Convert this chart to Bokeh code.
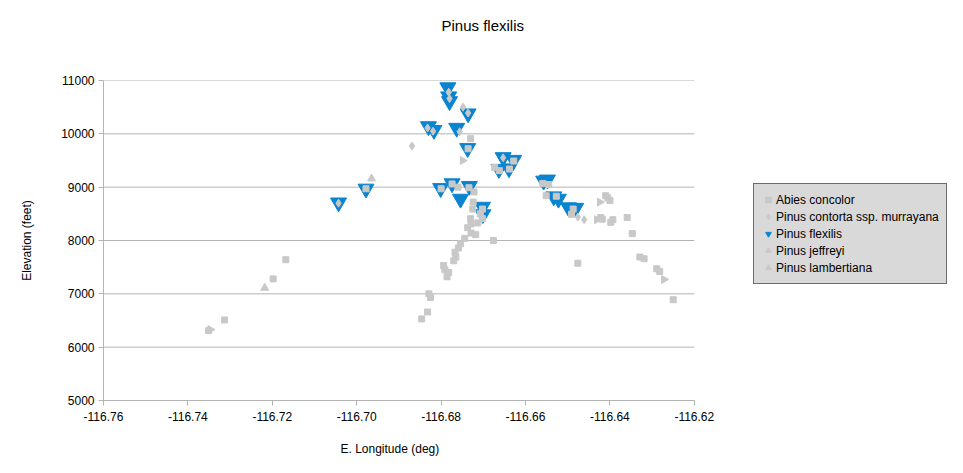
from bokeh.plotting import figure
from bokeh.models import (Legend, LegendItem, FixedTicker, PrintfTickFormatter, Range1d, Title)
from bokeh.embed import file_html
from bokeh.resources import INLINE

# ---- data (longitude deg, elevation feet) ----
abies_lon = [-116.7351, -116.7313, -116.7198, -116.7168, -116.6846, -116.6832, -116.6829, -116.6825,
             -116.6786, -116.6782, -116.6794, -116.6791, -116.6770, -116.6765, -116.6767, -116.6759,
             -116.6754, -116.6744, -116.6729, -116.6718, -116.6737, -116.6713, -116.6730, -116.6729,
             -116.6707, -116.6702, -116.6702, -116.6725, -116.6724, -116.6722, -116.6734, -116.6760,
             -116.6774, -116.6800, -116.6676, -116.6476, -116.6730, -116.6736, -116.6673, -116.6662,
             -116.6638, -116.6628, -116.6559, -116.6545, -116.6551, -116.6527, -116.6487, -116.6491,
             -116.6422, -116.6418, -116.6398, -116.6393, -116.6359, -116.6347, -116.6410, -116.6405,
             -116.6400, -116.6329, -116.6319, -116.6289, -116.6282, -116.6250, -116.6978]
abies_elev = [6310, 6510, 7280, 7640, 6530, 6660, 7000, 6930,
              7320, 7400, 7530, 7450, 7620, 7690, 7780, 7860,
              7940, 8040, 8140, 8110, 8240, 8330, 8410, 8310,
              8500, 8410, 8590, 8590, 8720, 8910, 8990, 9000,
              9060, 8970, 8000, 7574, 9910, 9720, 9370, 9310,
              9340, 9490, 9070, 9050, 8840, 8830, 8590, 8490,
              8430, 8400, 8340, 8390, 8430, 8130, 8840, 8800,
              8750, 7690, 7660, 7470, 7420, 6890, 8970]

contorta_lon = [-116.7043, -116.6869, -116.6748, -116.6782, -116.6780, -116.6736, -116.6832, -116.6819,
                -116.6756, -116.6653, -116.6476, -116.6461]
contorta_elev = [8700, 9770, 10500, 10780, 10660, 10390, 10110, 10050,
                 10040, 9550, 8440, 8390]

flexilis_lon = [-116.6784, -116.6782, -116.6780, -116.6736, -116.6830, -116.6817, -116.6763, -116.6737,
                -116.6653, -116.6628, -116.6663, -116.6639, -116.6801, -116.6774, -116.6733, -116.6754,
                -116.6702, -116.6701, -116.6557, -116.6548, -116.6533, -116.6522, -116.6498, -116.6481,
                -116.7043, -116.6978]
flexilis_elev = [10870, 10700, 10610, 10380, 10140, 10070, 10110, 9730,
                 9560, 9510, 9340, 9350, 8980, 9070, 9020, 8780,
                 8630, 8490, 9120, 9140, 8825, 8780, 8620, 8610,
                 8710, 8970]

jeffreyi_lon = [-116.7218, -116.6965]
jeffreyi_elev = [7110, 9160]

lambertiana_lon = [-116.7347, -116.6749, -116.6424, -116.6431, -116.6272]
lambertiana_elev = [6330, 9500, 8720, 8390, 7270]

x_ticks = [-116.76, -116.74, -116.72, -116.70, -116.68, -116.66, -116.64, -116.62]
y_ticks = [5000, 6000, 7000, 8000, 9000, 10000, 11000]
x_min, x_max = -116.76, -116.62

FONT = "Liberation Sans"
GRAY = "#c8c8c8"
BLUE = "#0a84d0"
GRID = "#b3b3b3"

# the frame is widened to the right so the legend (drawn inside it) sits beside the data area
p = figure(width=947, height=460, output_backend="svg", toolbar_location=None,
           x_range=Range1d(x_min, -116.56), y_range=Range1d(5000, 11000),
           min_border_left=103, min_border_right=0, min_border_top=80, min_border_bottom=60)
p.outline_line_color = None
p.background_fill_color = "white"
p.border_fill_color = "white"

p.title.text = ""
spacer = Title(text=" ", text_font=FONT, text_font_size="26px")
p.add_layout(spacer, "above")
main_title = Title(text="Pinus flexilis", text_font=FONT, text_font_size="15px",
                   text_font_style="normal", text_color="black", align="left", offset=338)
p.add_layout(main_title, "above")

# axes
for ax in (p.xaxis[0], p.yaxis[0]):
    ax.axis_line_color = GRID
    ax.major_tick_line_color = GRID
    ax.minor_tick_line_color = None
    ax.major_tick_in = 0
    ax.major_tick_out = 5
    ax.major_label_text_font = FONT
    ax.major_label_text_font_size = "12px"
    ax.major_label_text_color = "black"
    ax.axis_label_text_font = FONT
    ax.axis_label_text_font_size = "12px"
    ax.axis_label_text_font_style = "normal"
    ax.axis_label_text_color = "black"

p.xaxis.ticker = FixedTicker(ticks=x_ticks)
p.xaxis.formatter = PrintfTickFormatter(format="%.2f")
p.xaxis.bounds = (x_min, x_max)
p.xaxis.major_label_standoff = 6
# blank axis label used only as a small gap above the x-axis title
p.xaxis.axis_label = " "
p.xaxis.axis_label_text_font_size = "1px"
p.xaxis.axis_label_standoff = 7

# x-axis title placed under the data area (not under the widened frame)
x_title = Title(text="E. Longitude (deg)", text_font=FONT, text_font_size="12px",
                text_font_style="normal", text_color="black", align="left", offset=237)
p.add_layout(x_title, "below")

p.yaxis.ticker = FixedTicker(ticks=y_ticks)
p.yaxis.formatter = PrintfTickFormatter(format="%d")
p.yaxis.axis_label = "Elevation (feet)"
p.yaxis.axis_label_standoff = 24
p.yaxis.major_label_standoff = 4

p.xgrid.grid_line_color = None
p.ygrid.grid_line_color = None
# horizontal grid lines limited to the data area
p.segment(x0=[x_min] * len(y_ticks), x1=[x_max] * len(y_ticks), y0=y_ticks, y1=y_ticks,
          line_color=GRID, line_width=1)

# glyphs (flexilis drawn first so gray markers sit on top as in the reference)
r_flex = p.scatter(flexilis_lon, flexilis_elev, marker="inverted_triangle", size=16,
                   fill_color=BLUE, line_color=BLUE)
r_abies = p.scatter(abies_lon, abies_elev, marker="square", size=6,
                    fill_color=GRAY, line_color=GRAY)
r_cont = p.scatter(contorta_lon, contorta_elev, marker="diamond", size=8,
                   fill_color=GRAY, line_color=GRAY)
r_jeff = p.scatter(jeffreyi_lon, jeffreyi_elev, marker="triangle", size=8,
                   fill_color=GRAY, line_color=GRAY)
r_lamb = p.scatter(lambertiana_lon, lambertiana_elev, marker="triangle", angle=-1.5708, size=8,
                   fill_color=GRAY, line_color=GRAY)

legend = Legend(items=[
    LegendItem(label="Abies concolor", renderers=[r_abies]),
    LegendItem(label="Pinus contorta ssp. murrayana", renderers=[r_cont]),
    LegendItem(label="Pinus flexilis", renderers=[r_flex]),
    LegendItem(label="Pinus jeffreyi", renderers=[r_jeff]),
    LegendItem(label="Pinus lambertiana", renderers=[r_lamb]),
], location=(650, 116))
legend.background_fill_color = "#d9d9d9"
legend.background_fill_alpha = 1.0
legend.border_line_color = "black"
legend.border_line_width = 1
legend.label_text_font = FONT
legend.label_text_font_size = "12px"
legend.label_text_color = "black"
legend.padding = 7
legend.margin = 0
legend.spacing = 0
legend.label_height = 17
legend.glyph_height = 17
legend.glyph_width = 14
legend.label_standoff = 1
p.add_layout(legend, "center")

open("out.html", "w").write(file_html(p, INLINE))
